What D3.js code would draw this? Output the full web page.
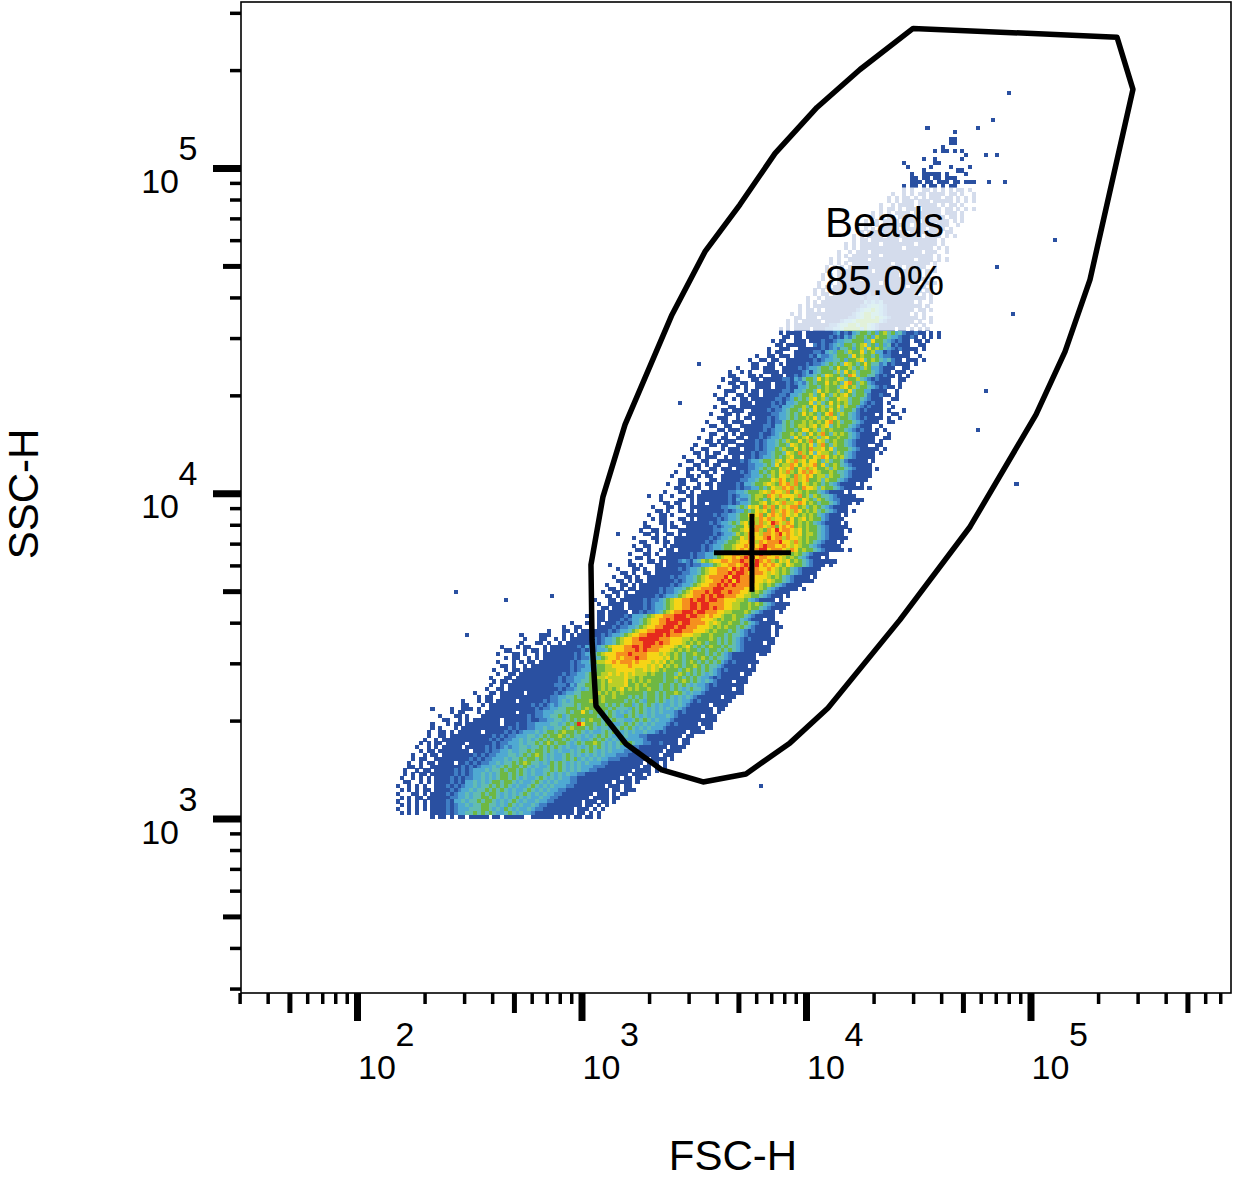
<!DOCTYPE html>
<html><head><meta charset="utf-8">
<style>html,body{margin:0;padding:0;background:#fff}svg{display:block}text{font-family:"Liberation Sans",Arial,sans-serif;fill:#000}</style>
<script src="https://cdn.jsdelivr.net/npm/d3@7"></script></head><body><div id="c"></div>
<script>
// density levels: "row:startChannel|cells", '.' = empty
const rowRuns = [
"222:184|1","220:183|11","219:183|11","218:181|1","217:179|1.11.1.1","216:187|1","215:176|1..1......1","214:171|1.......11","213:172|1.....1....1....1","212:176|1........11",
"211:173|1..11111.1....1","210:173|11.11.11.111","209:173|111.11.111.11.111",
"208:171|1.11.1.11.1.11","207:170|.1.1..11.1.1.1.11.1","206:168|1..1.1.11.1111.11.1..1","205:167|1.1.11.1.1.111.11.1.1.1","204:166|.1.1.111.111.11111.1.1.1","203:165|1..1.1111.11111.1.11.1","202:164|.1.11.1.111.11111.11.1.1.1","201:163|1.1.1.1111.1111111.111.1","200:162|.1.1.11.1111111.1111.11.1","199:161|1..1.1111.1111.1111111.1.1",
"198:160|.11.1.1111111.11111.111..1","197:159|1.1.1.11111.111111.1111.1","196:159|.1.111.111111.11111111.11","195:158|1.1.1111.111111111.1111.1.1","194:157|.1.11.1111111.111111111.1","193:156|1.1.11111.11111111.11111.1","192:155|.1.1.11111111111.1111111.1.1","191:154|1..1.111.1111111111111.111..1","190:153|.1.1.1111111.1111111111111.1","189:152|1.1..11111.11111111111.1111.1.1",
"188:151|.1.1.1.1111111111.111111111.1","187:151|1.1.1.11111111111111.11111..1","186:150|.1..1.1111111.111111111111.1.1","185:150|1.1.1111111111111111.11111.1","184:149|.1.1.111111.1111111111111111.1","183:149|1..1.11111111111.111111111..1.1","182:148|.1.1.1111111111111111111.1111.1","181:148|1.1.111111.11111111111111111.1","180:147|.1.11.1111111112111111111111.1.1",
"179:146|1..1.11111111121222111111111111.1","178:145|.1.1.111111111113232311111111.1..1","177:144|1.1.1111111111112234432111111111.1","176:143|.1.11.1.11111111234454321111111.11.1","175:142|1.1.111111111111234554432111111.1.1","174:142|.11.111.1111111223455454321111111.1.1","173:141|1.1.11111.11112334555555321111111.1..1","172:140|.1.111111111223445545543211111111.1.1","171:139|1.1.1111.111223345555354321111.11.1.1.1",
"170:139|1.1111.1111111231213455453564534211211.1.1","169:138|..11.11.11111121213245545365543321121.1.1.1","168:137|1.11..111.11121123344555347554321211.11.1","167:137|.11.11111..2121234355456745353412111..11","166:136|1..111..1111112123244535647565432121111.1",
"165:134|..1.11...111112213435546557456331211.11.1","164:133|1..11.111.111121322345554756554532211111..1","163:131|1..11.11..111111121233445355674565434211.111.1","162:130|..11..11.1.11111212234545476545754423121111.1","161:128|1...11.111..11112123345545755645465332111..11",
"160:126|1..1.1...1111.1111123134555464756455543211.111.1","159:125|.11...11.1..111.1121233454765545874554421211.1.1","158:124|1..11...11.111112213245547565576455643212111..11","157:124|..11.11..1111.111212324545575654785465321111..1","156:123|1...11.1..1111.1112113345545655467564554321211.1",
"155:123|..111..1.11.11111221334554756556457455331111..1","154:122|1..1..11.111.111122133455645754656754554211211.1","153:122|.11..1.11.1111112212354546756455766455432111..11","152:122|..11...111.111121213345557464575656455321211.1","151:122|1...11.1111111122133455645756465746553212111..1",
"150:122|..11.111..1111212234554654756575645542121111.1...1","149:121|1...11.1..111111223345457565457854654321111.1..11","148:121|..111..1.11.111212334545565746567455432121111.1..1","147:120|1...11.111..111121224545565656578564554321111..11","146:120|.11..11..1111112213345456656756745655432111..1",
"145:119|1...11.111.111112123345545775646565554321211.1.1","144:119|..11..1.1.111112112345565645756854656543211111..1","143:118|1..1..11..11.111212334554756756467556554321111..11","142:118|..11.1.111..1112123345465575685764565543211111.1","141:117|1...11.11..1111121233455476565746854655432111..11",
"140:116|1..11...1.111.11121233546557565866757455543211111.1","139:115|..11.1.11..11111121223455476586574766546543211111.1","138:114|1...1.111..1.11.1121233454567558657687565643211111..","137:114|.11..11..111111212334554675768675775464554211111.1","136:113|1...11.1.11..1111122334547566875767857456543211111",
"135:113|..11.1..11.111.11122345455767857686755646554321111.1","134:112|1..1...11.1..11112123354565768657868765565443211111","133:111|1...11.1.11..111111223345465776586787566465543211111","132:111|..11.11...11.11111223345557687568678556465543211111","131:110|1..11...1.11.111112133455676587868576565454321111.1",
"130:110|..11.1.11..1.11111212233545766878658776465543211111.1","129:109|1...11.1..1111111223345556768776857656554321111.1","128:108|1..1...11.11111111212334566587687776856465443211111","127:108|1....11.1.1111111121322456545756657557654654322111111","126:107|..11.11..1.11.1111121233455675676866787565455432111.1",
"125:106|1...11.1..11111111223345476758685767885645654321111","124:105|..11.1..11.1.111111121233545767586787687565645432111.1","123:105|1..11.1...1111111212233455767857876876756565432111.1","122:104|..1.11...11.1.11111212334556768786778575675655321111","121:104|1...11.1..11111112123345467586867987687565654321111.1",
"120:103|.11...1.11..111111121233455767887685787856565543211111","119:103|1..11.1...1111111112233455677886587978876756554321111.1","118:102|..11.1..11.1.11111112123346568776887897876756654321111","117:101|1....11.1..111111111212334557688778978868776565543211111","116:101|..11..1.11.111111112123345567788687888977686565432111.1",
"115:101|1..11...1.11111111212334556778787898877876765543211111","114:100|..11.1..1.11.1111112123345567878789978887687565543211111.1","113:100|1...11.1..111111212233456778878978988776765654321111","112:100|..11.1..111111112122334567787898978877876565432111.1","111:100|1....11.1.11123213465677887889887987865767565432111111",
"110:98|..11.1...11.11111212233456778878988978787657655432111.1","109:97|1...11.1..1111112123345677888798989887787656543211111","108:96|..11.1..11.111111122334567788898998788876765654321111","107:96|1..11.1..111111212233456788889799888877765654321111.1","106:95|..11.1.11.1111111212334567788989798888776765543211111",
"105:94|1...11.1.111111112123345677889898988887765654321111","104:93|..11.1.11.11111212233456778889998888877676543211111.1","103:93|1..11.1..1111112122345678889899889887765654321111","102:92|..11.1.11111111212334567788989899888776655432111.1","101:91|1...11.1111112122345677889899899887776654321111.1",
"100:91|.1..1111.111121233456778899899888877665565654321111","99:90|1..11.111.11112123345677889989989887766556554321111","98:90|..11.11111.1121223456788999899888776655565432111.1","97:89|1..11.1111213334567788899989988787765565543211111","96:88|..1.11.1112123345677889899998887776565565432111.11",
"95:85|1...11.1.11121213345677889998998888767655655454321 11 11".replace(/ /g,""),
"94:82|.1..11..1.11112122334567788999899888777656565545432111 1.11".replace(/ /g,""),
"93:79|1...11.1.1111111212334567788999989988877765655545432 1211 11.1".replace(/ /g,""),
"92:76|..11...1.1.111111212334567788999989888777665565554544321111 11.1".replace(/ /g,""),
"91:73|1...11..1.1.1111112123345677889999988877766565556545454321211 1111".replace(/ /g,""),
"90:70|..1...11.1..1.1111111212334567788899989887776565654554545432111 11.11".replace(/ /g,""),
"89:67|1...1.11...1.111111121322345677788998998887776567545456554544321111111",
"88:66|..11...1.11.1.1111111121223345777888989888777656565545455454543211 11111".replace(/ /g,""),
"87:66|1...11.1..1.11111111212334567778889888877767656545565545454321111 11.11".replace(/ /g,""),
"86:66|..1.11..1.1.11111111212233456778788898877776756545545654544321111 11".replace(/ /g,""),
"85:66|1...1.1.11.11111111212334566778788878777676756554565454545321211 1111".replace(/ /g,""),
"84:65|..11.1..1.11111111112122334556677778777767675656545565454432111 111.1".replace(/ /g,""),
"83:65|1..1.11.1111111111112123334556667777766767656555456545454321211 11111".replace(/ /g,""),
"82:65|.1..11.111111111112122334555667676767666565545546545454343211 111.11".replace(/ /g,""),
"81:64|1...11.1111111111121223334556676666766565555545565454543321211 11111".replace(/ /g,""),
"80:64|.1.11.1111111111112122334455565766675656565554554565454343211 11.111".replace(/ /g,""),
"79:64|1..1.11111111111122213244556565666675565655545545454343321211 11111".replace(/ /g,""),
"78:62|.1..11.1111111111111212234345556565675656556554554543454432111 111.11".replace(/ /g,""),
"77:60|1...11.111111.1111111212334455556565656555554554545565434332111 1 111111".replace(/ /g,""),
"76:59|..1.11..111111111111122334454555656556555454545545454343432111 111.111".replace(/ /g,""),
"75:57|1...1.11.11111.1111112122343455556556555554545435545434343321211 111111".replace(/ /g,""),
"74:55|..11...1.1111111111121212323444545556554545455345454343343432111 11.1111".replace(/ /g,""),
"73:54|1...11.1..11111111111121223344555456554554544435454343434343211 11111.11".replace(/ /g,""),
"72:52|..1.11...1.11111111.11112233344454557545554543434545434343332 1211 11111.1".replace(/ /g,""),
"71:51|1...11.1...1111111111112122334453455555554545433545434343 33432111 111.111".replace(/ /g,""),
"70:50|..11..1.1.1111111.111111211223344345454565545454433454543433321111 1111111".replace(/ /g,""),
"69:49|1...1.11.111111111.1112112233334434545975545454334545434343 3321211 111.111".replace(/ /g,""),
"68:48|.1.1...1.1111111111112121122334334454655545434433454543434333211 11 11111.11".replace(/ /g,""),
"67:48|1..11.1.111111.11111212123334345545655454343345454343433433212 11 111.1111".replace(/ /g,""),
"66:47|.1..11.11111111111212122333443454556545443434545434343332211 11 11111.11".replace(/ /g,""),
"65:47|1..1.1111111111112121223343434545455454343345454343433333211 11 1111.11".replace(/ /g,""),
"64:46|1.1.11.11111.1111112122333434454565455434545565434345454332211 2 1111.11".replace(/ /g,""),
"63:45|1..1.1.11111.1111121212323344344545454343343454543434332221111 111.1111".replace(/ /g,""),
"62:45|.1.11.11111111.111212233433445455454343343454543434333221111 1 111.1111".replace(/ /g,""),
"61:44|1..1.11.11111111212122333443454565434334543434343433322211 11 1111.111".replace(/ /g,""),
"60:43|.1.11..111111111212122333434454554543433454534343433222111 11 11.1111.1".replace(/ /g,""),
"59:43|1..1.11.1111.11212122334344545654434354543434343332211 11 11111.111.1".replace(/ /g,""),
"58:42|.11.1..1111111121212333434545545434334545434343332221111 1 1111.11.1.1".replace(/ /g,""),
"57:42|1..1.11.11111212123334344545545434334454543434332211 1111 111.1111.1".replace(/ /g,""),
"56:41|.1.1.11.1111112121233434345545454343345434343322111111 11 111.111.1".replace(/ /g,""),
"55:41|1..1.1.1.11112121223343434554543433454343433221111111 1111.11.111".replace(/ /g,""),
"54:41|.11..1.1.1111212133434345545543433454343433322111111 111.1111.1".replace(/ /g,""),
"53:40|1..1.1.1..11121212334344545454343345434343332211111 111.111.11".replace(/ /g,""),
"52:40|.1.1.1.11.11112123343445454543433454343433221111111 1111.11.111".replace(/ /g,""),
"51:40|1...11.1.111121233434454554343434543434332211111 1 11.111.1.11".replace(/ /g,""),
"50:40|.1.1.11.1111112233434455454343454343343322111111 11.1111.11".replace(/ /g,""),
"49:40|1..1.1.1.1111213343445455434345434334332211111 1 1.111.11.1".replace(/ /g,""),
"48:40|.1.1.1.1.1111212334344554434354343343221111111 11.11.1.1".replace(/ /g,""),
"47:40|1..1.1.1.1111212333444554343543433432211111 11 1.111.1.1".replace(/ /g,""),
"46:40|.1.1.1...1111212334454545433454343321111111 111.11.1.1".replace(/ /g,""),
"45:49|1.11.1.11.11111.11.11111..111111.1.1.11.11.1"
];
// isolated events far from the population, as channel positions
const strayCol = [198,194,177,190,192,195,197,193,210,195,199,192,190,200,55,68,80,58,72,77,49,57,95,97,105,134,118,113];
const strayRow = [232,225,223,223,216,216,209,209,194,187,175,155,145,131,103,101,102,92,92,92,73,73,110,118,128,53,162,152];
const levelColors = ["#2a50a1","#3f7ec4","#4fa9d2","#62bcb2","#6eb843","#b9cf28","#f6d416","#f5901e","#e62a1d"];
const levelKeys = ["1","2","3","4","5","6","7","8","9"];
// gate outline, FSC-H / SSC-H values
const gateFsc = [29990,242900,286000,184100,142500,105800,53800,26200,12530,8490,5400,3480,2280,1580,1160,1114,1102,1246,1563,2530,3548,5080,7280,11190,17400];
const gateSsc = [268700,252300,174500,45400,27240,17450,7890,4080,2188,1708,1371,1295,1410,1695,2218,3540,6026,9750,16250,35400,55300,77200,110900,153500,200900];
const medianFsc = [3890,5745,8570];
const medianSsc = [4975,6560,8650];
const labelBoxFsc = [7280,68700];
const labelBoxSsc = [31620,87100];
const xDecades = [100,1000,10000,100000];
const yDecades = [1000,10000,100000];
const xMid = [50,500,5000,50000,500000];
const yMid = [500,5000,50000];
const xMinor = [30,40,60,70,80,90,200,300,400,600,700,800,900,2000,3000,4000,6000,7000,8000,9000,20000,30000,40000,60000,70000,80000,90000,200000,300000,400000,600000,700000];
const yMinor = [300,400,600,700,800,900,2000,3000,4000,6000,7000,8000,9000,20000,30000,40000,60000,70000,80000,90000,200000,300000];
const xTitle = "FSC-H", yTitle = "SSC-H";
const gateLabel = ["Beads","85.0%"];

const W=1233,H=1190,L=241,R=1231,T=2,B=993;
const svg=d3.select("#c").append("svg").attr("width",W).attr("height",H).attr("viewBox",`0 0 ${W} ${H}`);
const x=d3.scaleLog().domain([100,100000]).range([357,1030.5]);
const y=d3.scaleLog().domain([1000,100000]).range([818.5,168]);
const colX=d3.scaleLinear().domain([0,256]).range([L,R]);
const rowY=d3.scaleLinear().domain([0,256]).range([B,T]);
const color=d3.scaleOrdinal().domain(levelKeys).range(levelColors);
const cells=[];
rowRuns.forEach(s=>{const [j,rest]=s.split(":");const [st,run]=rest.split("|");
  Array.from(run).forEach((ch,k)=>{if(ch!==".")cells.push({c:+st+k,r:+j,l:ch});});});
strayCol.forEach((c,i)=>cells.push({c,r:strayRow[i],l:"1"}));
const cw=colX(1)-colX(0), ch=rowY(0)-rowY(1);
svg.append("g").attr("shape-rendering","crispEdges").selectAll("rect").data(cells).join("rect")
  .attr("x",d=>colX(d.c)).attr("y",d=>rowY(d.r+1)).attr("width",cw+.2).attr("height",ch+.2).attr("fill",d=>color(d.l));
// label background
svg.append("rect").attr("x",x(labelBoxFsc[0])).attr("y",y(labelBoxSsc[1]))
  .attr("width",x(labelBoxFsc[1])-x(labelBoxFsc[0])).attr("height",y(labelBoxSsc[0])-y(labelBoxSsc[1]))
  .attr("fill","#fff").attr("opacity",.8);
// gate
const line=d3.line().x(i=>x(gateFsc[i])).y(i=>y(gateSsc[i])).curve(d3.curveLinearClosed);
svg.append("path").attr("d",line(d3.range(gateFsc.length))).attr("fill","none").attr("stroke","#000").attr("stroke-width",5.5).attr("stroke-linejoin","round");
// median cross
svg.append("line").attr("x1",x(medianFsc[0])).attr("x2",x(medianFsc[2])).attr("y1",y(medianSsc[1])).attr("y2",y(medianSsc[1])).attr("stroke","#000").attr("stroke-width",5);
svg.append("line").attr("x1",x(medianFsc[1])).attr("x2",x(medianFsc[1])).attr("y1",y(medianSsc[0])).attr("y2",y(medianSsc[2])).attr("stroke","#000").attr("stroke-width",5);
// frame
svg.append("rect").attr("x",L).attr("y",T).attr("width",R-L).attr("height",B-T).attr("fill","none").attr("stroke","#000").attr("stroke-width",1.6);
// axes
function ax(gen,tr,vals,size,w){const g=svg.append("g").attr("transform",tr).call(gen.tickValues(vals).tickSize(size).tickFormat(""));
  g.select(".domain").remove();g.selectAll("line").attr("stroke","#000").attr("stroke-width",w);}
const bt=`translate(0,${B})`, lf=`translate(${L},0)`;
ax(d3.axisBottom(x),bt,xMinor,11,3.5);ax(d3.axisBottom(x),bt,xMid,20,5);ax(d3.axisBottom(x),bt,xDecades,28,7);
ax(d3.axisLeft(y),lf,yMinor,11,3.5);ax(d3.axisLeft(y),lf,yMid,18,5);ax(d3.axisLeft(y),lf,yDecades,28,7);
const fs=34;
xDecades.forEach(v=>{const e=Math.round(Math.log10(v));
  svg.append("text").attr("x",x(v)+20).attr("y",1079).attr("text-anchor","middle").attr("font-size",fs).text("10");
  svg.append("text").attr("x",x(v)+48).attr("y",1046).attr("text-anchor","middle").attr("font-size",fs).text(e);});
yDecades.forEach(v=>{const e=Math.round(Math.log10(v));
  svg.append("text").attr("x",179).attr("y",y(v)+25).attr("text-anchor","end").attr("font-size",fs).text("10");
  svg.append("text").attr("x",188).attr("y",y(v)-8).attr("text-anchor","middle").attr("font-size",fs).text(e);});
svg.append("text").attr("x",733).attr("y",1170).attr("text-anchor","middle").attr("font-size",42).text(xTitle);
svg.append("text").attr("transform","translate(38,494) rotate(-90)").attr("text-anchor","middle").attr("font-size",42).text(yTitle);
gateLabel.forEach((t,i)=>svg.append("text").attr("x",884.5).attr("y",237+i*58).attr("text-anchor","middle").attr("font-size",42).text(t));
</script></body></html>
